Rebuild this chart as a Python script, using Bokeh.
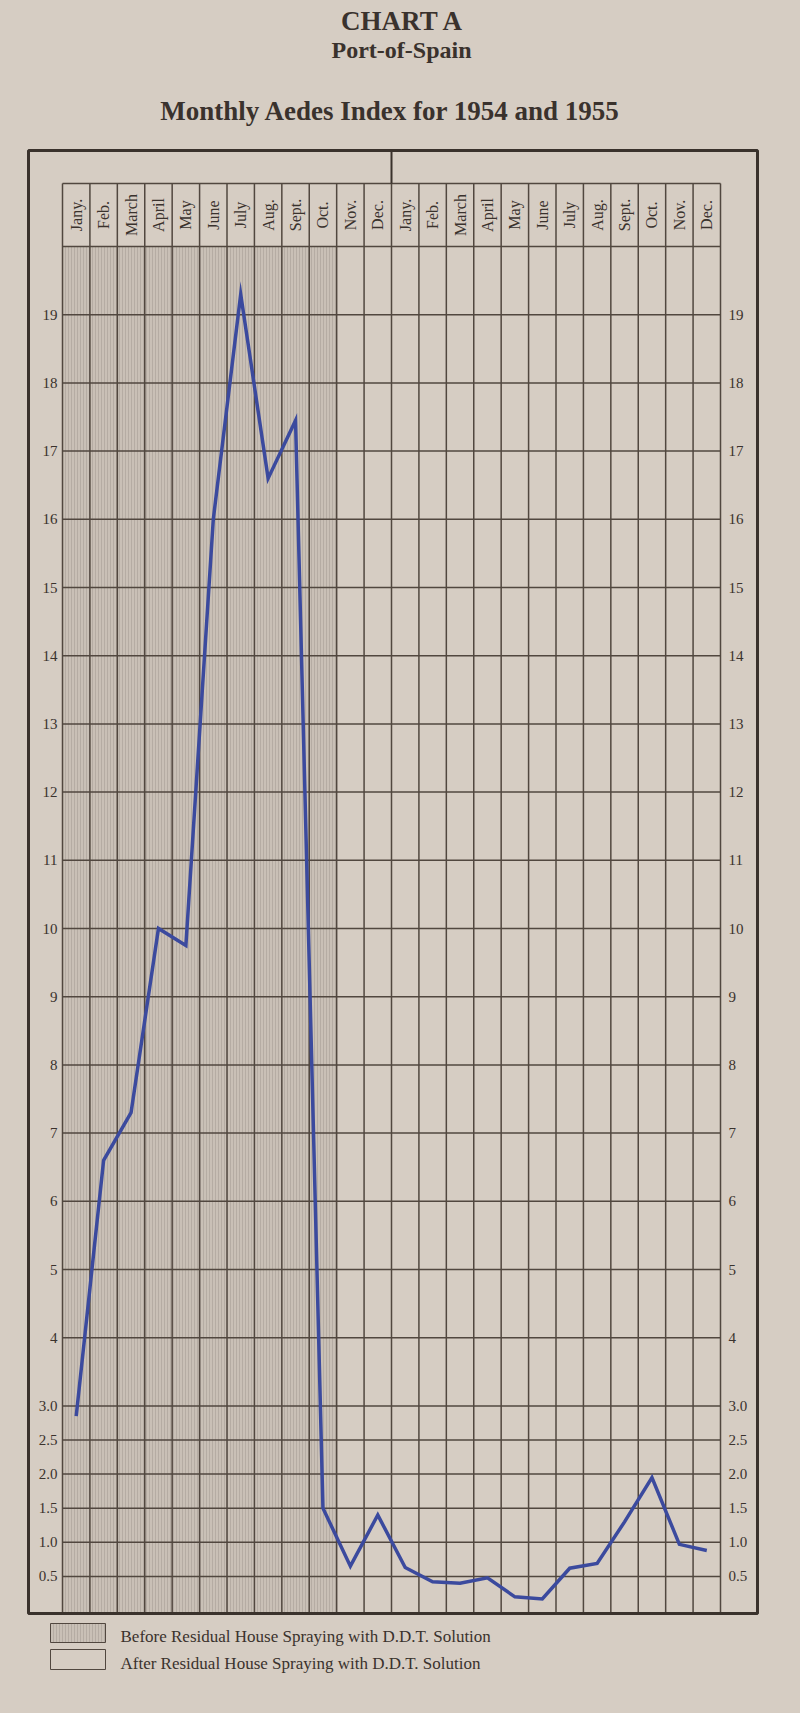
import math
from bokeh.plotting import figure
from bokeh.models import Range1d, GlobalInlineStyleSheet
from bokeh.core.properties import value
from bokeh.embed import file_html
from bokeh.resources import INLINE

# ---------------- data ----------------
MONTHS = ["Jany.", "Feb.", "March", "April", "May", "June",
          "July", "Aug.", "Sept.", "Oct.", "Nov.", "Dec."]
YEARS = [1954, 1955]
INDEX_1954 = [2.85, 6.6, 7.3, 10.0, 9.75, 16.0, 19.3, 16.6, 17.45, 1.5, 0.65, 1.4]
INDEX_1955 = [0.63, 0.42, 0.40, 0.48, 0.20, 0.17, 0.62, 0.69, 1.3, 1.95, 0.97, 0.88]
MONTHS_BEFORE_SPRAYING = 10
TICK_VALUES = [0.5, 1.0, 1.5, 2.0, 2.5, 3, 4, 5, 6, 7, 8, 9, 10,
               11, 12, 13, 14, 15, 16, 17, 18, 19]
TICK_LABELS = ["0.5", "1.0", "1.5", "2.0", "2.5", "3.0", "4", "5", "6", "7",
               "8", "9", "10", "11", "12", "13", "14", "15", "16", "17", "18", "19"]
Y_MAX = 20
TITLE_1 = "CHART A"
TITLE_2 = "Port-of-Spain"
TITLE_3 = "Monthly Aedes Index for 1954 and 1955"
LEGEND_LABELS = ["Before Residual House Spraying with D.D.T. Solution",
                 "After Residual House Spraying with D.D.T. Solution"]

# ---------------- layout (page pixels) ----------------
W, H = 784, 1697
MARGIN = 8
GRID_LEFT, GRID_RIGHT = 70, 728
Y0_PAGE, YMAX_PAGE = 1618, 254
N_COLS = len(MONTHS) * len(YEARS)
XS = (GRID_RIGHT - GRID_LEFT) / N_COLS
YS = (Y0_PAGE - YMAX_PAGE) / Y_MAX


def dx(px):
    return (px - GRID_LEFT) / XS


def dy(py):
    return (Y0_PAGE - py) / YS


PAPER = "#d6cdc3"
HATCH_BG = "#c9c0b6"
HATCH_LINE = "#9a9188"
GRID_C = "#51473f"
FRAME_C = "#3a322c"
TEXT_C = "#3a322d"
LINE_C = "#3b4a9e"
SERIF = value("Liberation Serif")

p = figure(width=W, height=H,
           x_range=Range1d(dx(MARGIN), dx(MARGIN + W)),
           y_range=Range1d(dy(MARGIN + H), dy(MARGIN)),
           x_axis_type=None, y_axis_type=None,
           output_backend="svg", toolbar_location=None, min_border=0)
p.stylesheets = [GlobalInlineStyleSheet(css="body { background: %s; }" % PAPER)]
p.grid.visible = False
p.outline_line_color = None
p.background_fill_color = PAPER
p.border_fill_color = PAPER

frame_top = dy(158)
frame_bottom = dy(1621)
header_top = dy(191)

# hatched "before spraying" area
p.quad(left=[0], right=[MONTHS_BEFORE_SPRAYING], bottom=[frame_bottom], top=[Y_MAX],
       fill_color=HATCH_BG, line_color=None,
       hatch_pattern="|", hatch_color=HATCH_LINE, hatch_scale=3.0, hatch_weight=0.6,
       hatch_alpha=0.7)

# vertical grid lines (through header)
cols = list(range(N_COLS + 1))
p.segment(x0=cols, x1=cols, y0=[frame_bottom] * len(cols), y1=[header_top] * len(cols),
          line_color=GRID_C, line_width=1.5)
# horizontal grid lines
hy = TICK_VALUES + [Y_MAX, header_top]
p.segment(x0=[0] * len(hy), x1=[N_COLS] * len(hy), y0=hy, y1=hy,
          line_color=GRID_C, line_width=1.5)
# year divider
p.segment(x0=[len(MONTHS)], x1=[len(MONTHS)], y0=[header_top], y1=[frame_top],
          line_color=FRAME_C, line_width=2)
# outer frame
p.quad(left=[dx(36)], right=[dx(765)], bottom=[frame_bottom], top=[frame_top],
       fill_color=None, line_color=FRAME_C, line_width=3)

# month labels in header
mx = [i + 0.5 for i in range(N_COLS)]
p.text(x=mx, y=[(Y_MAX + header_top) / 2] * N_COLS, text=MONTHS * len(YEARS),
       angle=math.pi / 2, text_align="center", text_baseline="middle",
       text_font=SERIF, text_font_size="16px", text_color=TEXT_C)

# y tick labels left and right
p.text(x=[dx(65)] * len(TICK_VALUES), y=TICK_VALUES, text=TICK_LABELS,
       text_align="right", text_baseline="middle",
       text_font=SERIF, text_font_size="15px", text_color=TEXT_C)
p.text(x=[dx(736)] * len(TICK_VALUES), y=TICK_VALUES, text=TICK_LABELS,
       text_align="left", text_baseline="middle",
       text_font=SERIF, text_font_size="15px", text_color=TEXT_C)

# data line
p.line(x=mx, y=INDEX_1954 + INDEX_1955, line_color=LINE_C, line_width=3.5,
       line_join="miter")

# titles
p.text(x=[dx(410)], y=[dy(28)], text=[TITLE_1], text_align="center", text_baseline="middle",
       text_font=SERIF, text_font_style="bold", text_font_size="27px", text_color=TEXT_C)
p.text(x=[dx(409)], y=[dy(57)], text=[TITLE_2], text_align="center", text_baseline="middle",
       text_font=SERIF, text_font_style="bold", text_font_size="24px", text_color=TEXT_C)
p.text(x=[dx(398)], y=[dy(118)], text=[TITLE_3], text_align="center", text_baseline="middle",
       text_font=SERIF, text_font_style="bold", text_font_size="27px", text_color=TEXT_C)

# legend
p.quad(left=[dx(58)], right=[dx(113)], bottom=[dy(1650)], top=[dy(1631)],
       fill_color=HATCH_BG, line_color=GRID_C, line_width=1,
       hatch_pattern="|", hatch_color=HATCH_LINE, hatch_scale=3.0, hatch_weight=0.6,
       hatch_alpha=0.7)
p.quad(left=[dx(58)], right=[dx(113)], bottom=[dy(1677)], top=[dy(1657)],
       fill_color=None, line_color=GRID_C, line_width=1)
p.text(x=[dx(128), dx(128)], y=[dy(1644), dy(1671)], text=LEGEND_LABELS,
       text_align="left", text_baseline="middle",
       text_font=SERIF, text_font_size="17px", text_color=TEXT_C)

open("out.html", "w").write(file_html(p, INLINE))
